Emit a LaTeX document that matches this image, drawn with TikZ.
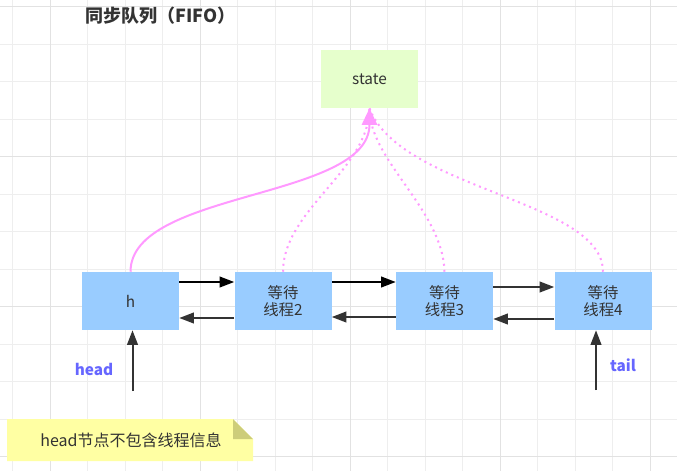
\documentclass[tikz,border=0pt]{standalone}
\usepackage{fontspec}
\setmainfont{Noto Sans CJK SC}
\usetikzlibrary{arrows.meta,calc}
\definecolor{gridminor}{HTML}{EEEEEE}
\definecolor{gridmajor}{HTML}{E2E2E2}
\definecolor{boxblue}{HTML}{99CCFF}
\definecolor{stategreen}{HTML}{E6FFCC}
\definecolor{pinkline}{HTML}{FF99FF}
\definecolor{txt}{HTML}{333333}
\definecolor{lbl}{HTML}{6666FF}
\definecolor{notefill}{HTML}{FFFFA3}
\definecolor{notefold}{HTML}{CDCD7A}
\tikzset{
  qbox/.style={fill=boxblue, draw=none, minimum width=72.75pt, minimum height=43.5pt, inner sep=0pt, align=center, font=\fontsize{11.5}{13}\selectfont, text=txt},
  stbox/.style={fill=stategreen, draw=none, minimum width=72.75pt, minimum height=43.5pt, inner sep=0pt, font=\fontsize{11.5}{13}\selectfont, text=txt},
  linkarr/.style={line width=1.5pt, draw=txt, -{Triangle[length=11pt,width=8pt]}},
  ptrarr/.style={line width=1.5pt, draw=txt, -{Triangle[length=11pt,width=8pt]}},
  pinksolid/.style={line width=1.5pt, draw=pinkline, -{Triangle[length=12.5pt,width=11.5pt,fill=pinkline]}},
  pinkdot/.style={line width=1.5pt, draw=pinkline, dash pattern=on 1.5pt off 3pt},
  ptrlabel/.style={font=\bfseries\fontsize{11.5}{13}\selectfont, text=lbl},
}
\begin{document}
\begin{tikzpicture}[x=0.75pt,y=-0.75pt]
\useasboundingbox (0,0) rectangle (677,471);
\fill[white] (0,0) rectangle (677,471);
% grid
\foreach \k in {0,...,17} {
  \pgfmathsetmacro{\xx}{12.5+37.5*\k}
  \draw[gridminor, line width=0.75pt] (\xx,0) -- (\xx,471);
}
\foreach \k in {0,...,12} {
  \pgfmathsetmacro{\yy}{6.5+37.5*\k}
  \draw[gridminor, line width=0.75pt] (0,\yy) -- (677,\yy);
}
\foreach \xx in {50,200,350,500,650} \draw[gridmajor, line width=0.75pt] (\xx,0) -- (\xx,471);
\foreach \yy in {6.5,156.5,306.5,456.5} \draw[gridmajor, line width=0.75pt] (0,\yy) -- (677,\yy);

% title
\node[font=\bfseries\fontsize{13.5}{15}\selectfont, text=txt, anchor=west, inner sep=0pt] (title) at (85,16) {同步队列（FIFO）};

% nodes
\node[stbox] (state) at (369.5,79) {state};
\node[qbox] (h) at (130.5,301) {h};
\node[qbox] (t2) at (283,301) {等待\\线程2};
\node[qbox] (t3) at (444.5,301) {等待\\线程3};
\node[qbox] (t4) at (603,301) {等待\\线程4};

% links
\draw[linkarr, draw=black] ([yshift=14.25pt]h.east) -- ([yshift=14.25pt]t2.west);
\draw[linkarr] ([yshift=-12.75pt]t2.west) -- ([yshift=-12.75pt]h.east);
\draw[linkarr, draw=black] ([yshift=14.25pt]t2.east) -- ([yshift=14.25pt]t3.west);
\draw[linkarr] ([yshift=-12pt]t3.west) -- ([yshift=-12pt]t2.east);
\draw[linkarr] ([yshift=10.5pt]t3.east) -- ([yshift=10.5pt]t4.west);
\draw[linkarr] ([yshift=-13.5pt]t4.west) -- ([yshift=-13.5pt]t3.east);

% state connections
\draw[pinkdot] (t2.north) .. controls (283,210) and (369,170) .. (state.south);
\draw[pinkdot] (t3.north) .. controls (443,210) and (369,160) .. (state.south);
\draw[pinkdot] (t4.north) .. controls (603,200) and (400,190) .. (state.south);
\draw[pinksolid] (h.north) .. controls (130.5,190) and (369.5,200) .. (state.south);

% head / tail
\coordinate (headstart) at (132.5,391);
\coordinate (tailstart) at (596,390);
\draw[ptrarr] (headstart) -- (headstart |- h.south);
\draw[ptrarr] (tailstart) -- (tailstart |- t4.south);
\node[ptrlabel] (headlbl) at (94,369) {head};
\node[ptrlabel] (taillbl) at (623,365) {tail};

% note
\fill[notefill] (7,419) -- (233,419) -- (253,439) -- (253,461) -- (7,461) -- cycle;
\fill[notefold] (233,419) -- (253,439) -- (233,439) -- cycle;
\node[font=\fontsize{12}{14}\selectfont, text=txt] (note) at (131,440) {head节点不包含线程信息};
\end{tikzpicture}
\end{document}
